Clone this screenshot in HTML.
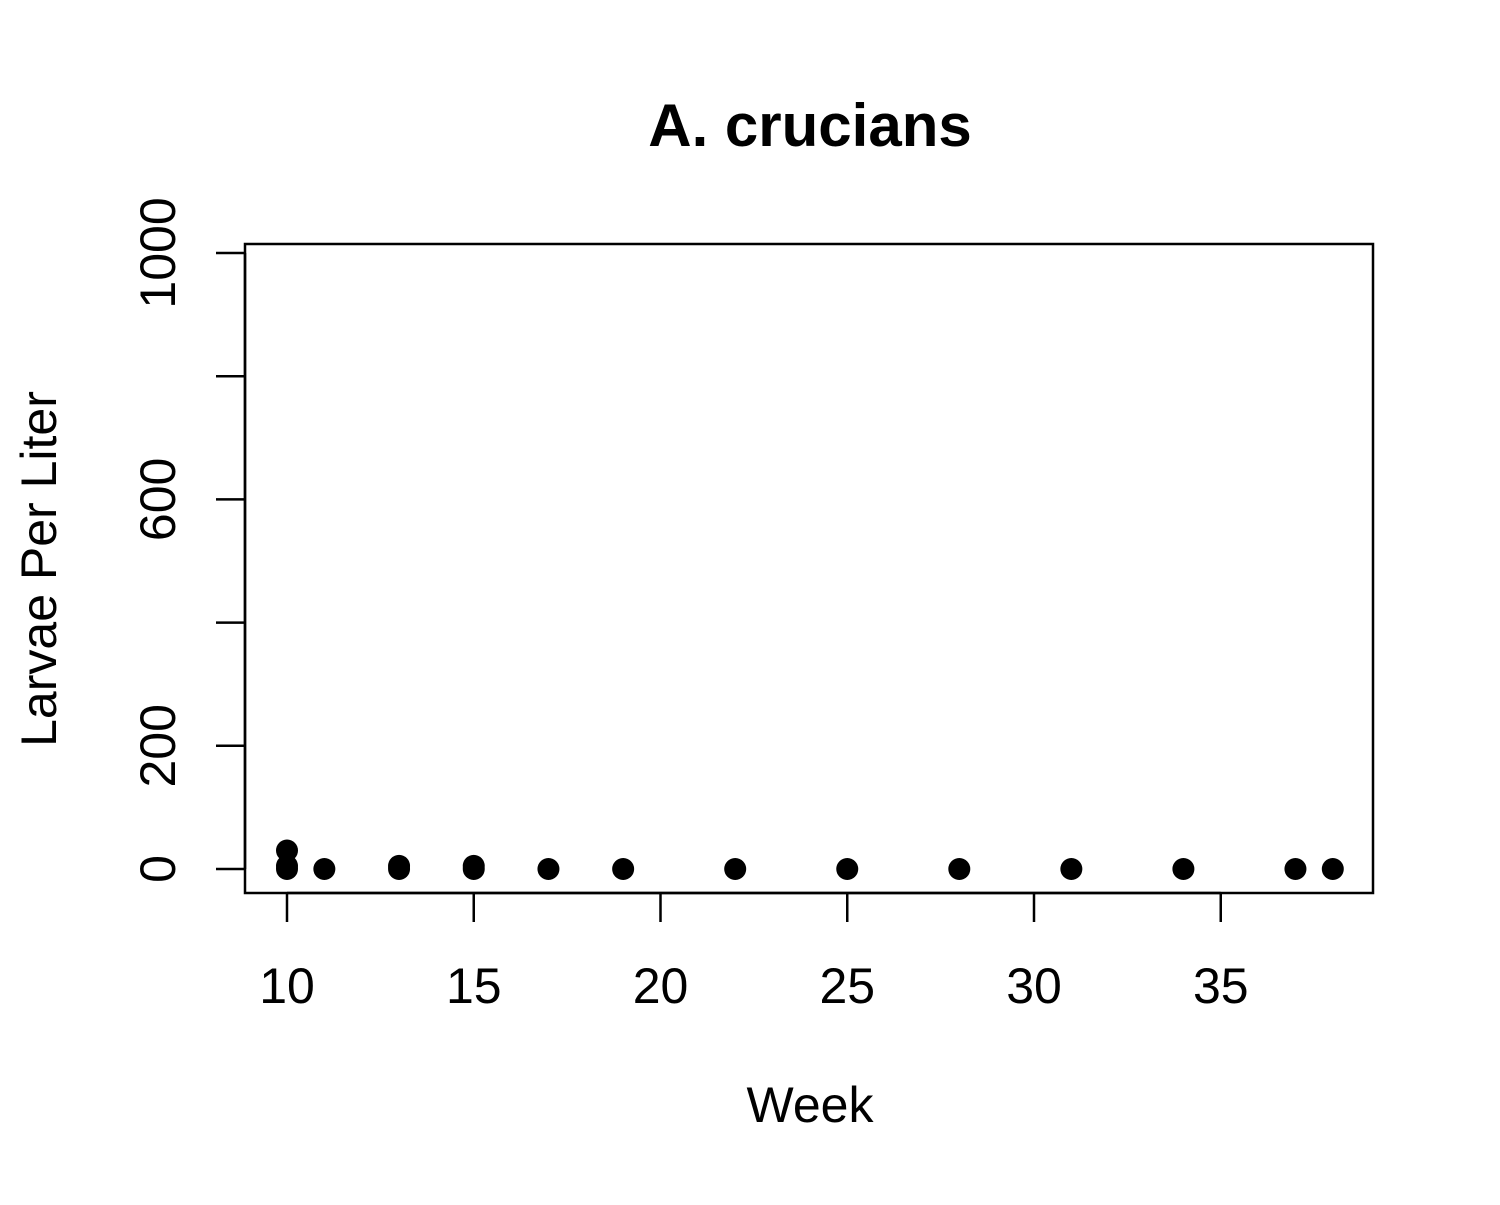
<!DOCTYPE html>
<html><head><meta charset="utf-8"><style>body{margin:0;background:#fff}</style></head>
<body>
<svg id="chart" width="1500" height="1200" xmlns="http://www.w3.org/2000/svg" font-family="Liberation Sans, sans-serif">
<text x="810" y="146" text-anchor="middle" font-size="60" font-weight="bold">A. crucians</text>
<rect x="245" y="244" width="1128" height="649" fill="none" stroke="#000" stroke-width="2.5"/>
<text x="810" y="1122" text-anchor="middle" font-size="50">Week</text>
<text transform="translate(56,569) rotate(-90)" text-anchor="middle" font-size="50">Larvae Per Liter</text>
<g id="axes"></g><g id="points"></g>
</svg>
<script>
const weeks=[10,10,10,11,13,13,15,15,17,19,22,25,28,31,34,37,38];
const values=[0,5,30,0,0,5,0,5,0,0,0,0,0,0,0,0,0];
const xTicks=[10,15,20,25,30,35];
const yTicks=[0,200,400,600,800,1000];
const yLabels=["0","200","","600","","1000"];
const NS="http://www.w3.org/2000/svg";
const xs=w=>287+(w-10)*37.35;
const ys=v=>869-v*0.616;
const ax=document.getElementById('axes'),pts=document.getElementById('points');
function mk(t,a){const e=document.createElementNS(NS,t);for(const k in a)e.setAttribute(k,a[k]);return e;}
const xl=mk('line',{x1:xs(10),x2:xs(35),y1:893,y2:893,stroke:'#000','stroke-width':2.5});


xTicks.forEach(t=>{
 const l=mk('line',{x1:xs(t),x2:xs(t),y1:893,y2:922,stroke:'#000','stroke-width':2.5});
 
 
 ax.appendChild(l);
 const tx=mk('text',{x:xs(t),y:1003,'text-anchor':'middle','font-size':50});tx.textContent=t;
 
 
 ax.appendChild(tx);
});
yTicks.forEach((t,i)=>{
 const l=mk('line',{x1:216,x2:245,y1:ys(t),y2:ys(t),stroke:'#000','stroke-width':2.5});
 
 
 ax.appendChild(l);
 if(yLabels[i]){const tx=mk('text',{transform:`translate(175,${ys(t)}) rotate(-90)`,'text-anchor':'middle','font-size':50});tx.textContent=yLabels[i];
 
 
 ax.appendChild(tx);}
});
const yl=mk('line',{x1:245,x2:245,y1:ys(0),y2:ys(1000),stroke:'#000','stroke-width':2.5});


ax.appendChild(xl);ax.appendChild(yl);
weeks.forEach((w,i)=>{
 const c=mk('circle',{cx:xs(w),cy:ys(values[i]),r:11,fill:'#000'});
 
 
 pts.appendChild(c);
});
</script>
</body></html>
